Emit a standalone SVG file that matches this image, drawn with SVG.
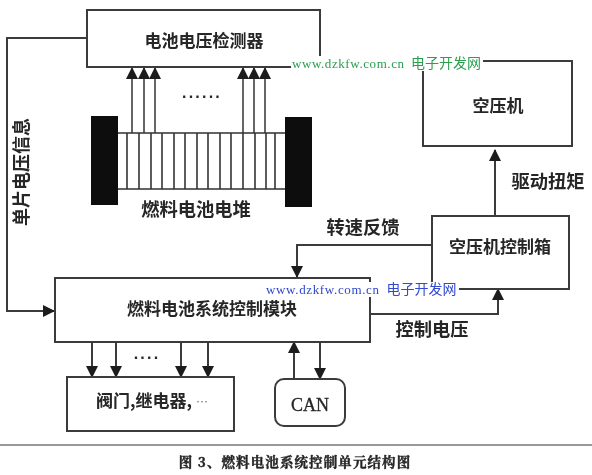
<svg xmlns="http://www.w3.org/2000/svg" width="592" height="475" viewBox="0 0 592 475">
<style>
.b{fill:#fff;stroke:#3a3a3a;stroke-width:2}
.c{fill:none;stroke:#3a3a3a;stroke-width:2}
.g{fill:none;stroke:#666;stroke-width:2}
.s{fill:none;stroke:#333;stroke-width:1.6}
text{font-family:"Noto Sans CJK SC","Liberation Sans",sans-serif;fill:#262626;text-anchor:middle;font-weight:700}
.m{font-size:17px}
.l{font-size:18.3px}
.w{font-family:"Liberation Serif","Noto Sans CJK SC",serif;font-size:13px;text-anchor:start;font-weight:400}
.n{font-size:14px;font-weight:400}
.d{font-family:"Liberation Sans",sans-serif;font-weight:700;font-size:16px;letter-spacing:2.2px}
</style>
<defs>
<marker id="a" markerUnits="userSpaceOnUse" markerWidth="13" markerHeight="13" refX="11" refY="6" orient="auto"><path d="M0 0L12 6L0 12Z" fill="#1c1c1c"/></marker>
<filter id="f" x="-5%" y="-5%" width="110%" height="110%"><feGaussianBlur stdDeviation="0.4"/></filter>
</defs>
<rect width="592" height="475" fill="#fff"/>
<g filter="url(#f)">
<g id="connectors">
<path class="c" d="M87 38H7V311H54" marker-end="url(#a)"/>
<path class="g" d="M132 133V68" marker-end="url(#a)"/>
<path class="g" d="M144 133V68" marker-end="url(#a)"/>
<path class="g" d="M155 133V68" marker-end="url(#a)"/>
<path class="g" d="M243 133V68" marker-end="url(#a)"/>
<path class="g" d="M254 133V68" marker-end="url(#a)"/>
<path class="g" d="M265 133V68" marker-end="url(#a)"/>
<path class="c" d="M92 342V377" marker-end="url(#a)"/>
<path class="c" d="M116 342V377" marker-end="url(#a)"/>
<path class="c" d="M181 342V377" marker-end="url(#a)"/>
<path class="c" d="M208 342V377" marker-end="url(#a)"/>
<path class="c" d="M294 379V342" marker-end="url(#a)"/>
<path class="c" d="M320 342V379" marker-end="url(#a)"/>
<path class="c" d="M495 216V150" marker-end="url(#a)"/>
<path class="c" d="M432 245H297V277" marker-end="url(#a)"/>
<path class="c" d="M370 314H498V289" marker-end="url(#a)"/>
</g>
<g id="detector"><rect class="b" x="87" y="10" width="233" height="57"/><text class="m" x="204" y="47">电池电压检测器</text></g>
<g id="stack">
<rect x="91" y="116" width="27" height="89" fill="#0c0c0c"/>
<rect x="285" y="117" width="27" height="90" fill="#0c0c0c"/>
<path class="s" d="M118 133H285M118 189H285M127 133V189M139 133V189M151 133V189M162 133V189M174 133V189M185 133V189M197 133V189M208 133V189M220 133V189M231 133V189M243 133V189M255 133V189M266 133V189M275 133V189"/>
<text class="l" x="196" y="216">燃料电池电堆</text>
</g>
<text class="d" x="202" y="98">......</text>
<text class="m" transform="translate(28 172) rotate(-90)" style="font-size:18px">单片电压信息</text>
<g id="compressor"><rect class="b" x="423" y="61" width="149" height="85"/><text class="m" x="498" y="112">空压机</text></g>
<text class="l" x="548" y="188">驱动扭矩</text>
<g id="compressor-controller"><rect class="b" x="432" y="216" width="137" height="73"/><text class="m" x="500" y="253">空压机控制箱</text></g>
<text class="l" x="363" y="234">转速反馈</text>
<g id="control-module"><rect class="b" x="55" y="278" width="315" height="64"/><text class="m" x="212" y="315">燃料电池系统控制模块</text></g>
<text class="l" x="432" y="336">控制电压</text>
<g id="valves"><rect class="b" x="67" y="377" width="167" height="54"/><text class="m" x="152" y="407">阀门,继电器, <tspan style="font-size:12px;font-weight:400;fill:#666">…</tspan></text></g>
<text class="d" x="147" y="359">....</text>
<g id="can"><rect class="b" x="275" y="379" width="70" height="47" rx="9"/><text x="310" y="411" style="font-family:'Liberation Serif',serif;font-size:18px;font-weight:400;stroke:#262626;stroke-width:.3">CAN</text></g>
<path d="M0 445H592" stroke="#777" stroke-width="1.5"/>
<text x="295" y="467" style="font-family:'Noto Serif CJK SC','Noto Sans CJK SC',serif;font-size:13.5px;letter-spacing:1.1px;stroke:#222;stroke-width:.4">图 3、燃料电池系统控制单元结构图</text>
<g id="watermarks">
<rect x="291" y="56" width="192" height="15" fill="#fff"/>
<rect x="264" y="282" width="195" height="15" fill="#fff"/>
<text class="w" x="292" y="68" textLength="112" lengthAdjust="spacing" style="fill:#2aa050">www.dzkfw.com.cn</text>
<text class="n" x="446" y="68" style="fill:#2aa050">电子开发网</text>
<text class="w" x="266" y="294" textLength="113" lengthAdjust="spacing" style="fill:#3048d0">www.dzkfw.com.cn</text>
<text class="n" x="421.500" y="294" style="fill:#3048d0">电子开发网</text>
</g>
</g>
</svg>
